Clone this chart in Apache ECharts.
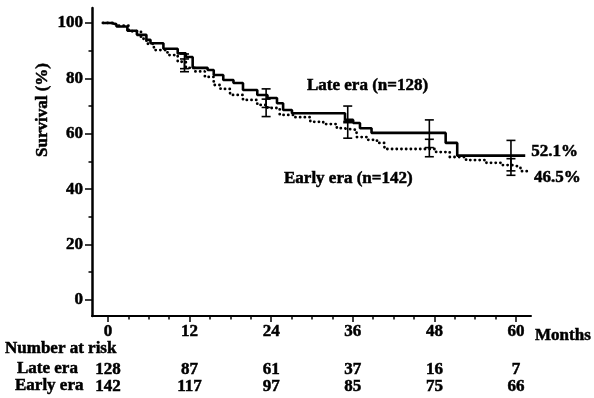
<!DOCTYPE html>
<html>
<head>
<meta charset="utf-8">
<script src="https://cdn.jsdelivr.net/npm/echarts@6/dist/echarts.min.js"></script>
<style>
  html, body { margin: 0; padding: 0; background: #fff; }
  #chart { width: 594px; height: 398px; }
</style>
</head>
<body>
<div id="chart"></div>
<script>
// Kaplan-Meier survival, late vs early era
const tickMonths = [0, 12, 24, 36, 48, 60];
const minorMonths = [3, 6, 9, 15, 18, 21, 27, 30, 33, 39, 42, 45, 51, 54, 57];
const yMajor = [0, 20, 40, 60, 80, 100];
const yMinor = [10, 30, 50, 70, 90];

const lateAtRisk = [128, 87, 61, 37, 16, 7];
const earlyAtRisk = [142, 117, 97, 85, 75, 66];

// Late era (n=128): event times (months) and survival (%)
const lateMonths = [0, 1.2, 2.0, 3.6, 5.0, 6.4, 7.0, 8.9, 11.0, 12.2, 13.2, 15.4, 16.3, 17.7, 19.2, 20.6, 22.7, 24.2, 25.6, 26.5, 27.8, 35.6, 36.8, 37.8, 39.5, 50.4, 52.1, 62.1];
const lateSurvival = [100, 99.5, 98.7, 97.2, 95.7, 93.9, 92.7, 90.7, 89.0, 87.7, 83.8, 83.0, 81.2, 79.4, 78.3, 75.8, 74.0, 72.9, 71.0, 68.6, 67.4, 65.0, 63.9, 62.0, 60.3, 56.7, 52.1, 52.1];

// Early era (n=142)
const earlyMonths = [0, 1.9, 3.8, 5.6, 6.4, 7.5, 9.5, 11.0, 12.2, 13.5, 15.0, 16.3, 17.3, 18.7, 20.6, 22.7, 24.2, 26.0, 28.0, 30.5, 32.4, 34.4, 35.3, 37.3, 38.8, 40.3, 41.4, 49.0, 51.0, 53.4, 56.4, 58.7, 60.2, 61.4, 62.5];
const earlySurvival = [100, 99.0, 97.0, 94.3, 92.5, 90.2, 88.4, 86.0, 83.8, 82.5, 80.5, 77.6, 76.2, 74.0, 72.2, 70.4, 69.3, 66.8, 66.0, 64.3, 63.5, 62.0, 61.4, 58.8, 57.8, 56.7, 54.5, 53.4, 51.6, 50.5, 49.5, 48.7, 48.0, 46.5, 46.5];

// Confidence bars at yearly marks
const errMonths = [12, 24, 36, 48, 60];
const lateLower = [83.5, 69.5, 64.5, 55.0, 46.6];
const lateUpper = [88.8, 76.2, 70.0, 65.0, 57.6];
const earlyLower = [82.4, 66.2, 58.4, 51.7, 45.0];
const earlyUpper = [87.0, 72.5, 64.0, 58.0, 51.0];

const FONT = 'Liberation Serif';
const txt = { fontFamily: FONT, fontWeight: 'bold', fontSize: 17, color: '#000',
  textBorderColor: '#000', textBorderWidth: 0.5 };
const FONT_CSS = 'bold 17px "Liberation Serif"';
const gText = (text, x, y, extra) => ({
  type: 'text', x, y, ...(extra || {}),
  style: { text, font: FONT_CSS, fill: '#000', stroke: '#000', lineWidth: 0.5,
    align: (extra && extra.rotation) ? 'center' : 'left', verticalAlign: 'middle' }
});

const zip = (a, b) => a.map((v, i) => [v, b[i]]);
const errData = (lo, hi) => errMonths.map((m, i) => [m, lo[i], hi[i]]);

function errorBar(params, api) {
  const x = api.value(0);
  const lo = api.coord([x, api.value(1)]);
  const hi = api.coord([x, api.value(2)]);
  const w = 4.5;
  const st = { stroke: '#000', lineWidth: 1.6 };
  return {
    type: 'group',
    children: [
      { type: 'line', shape: { x1: lo[0], y1: lo[1], x2: hi[0], y2: hi[1] }, style: st },
      { type: 'line', shape: { x1: lo[0] - w, y1: lo[1], x2: lo[0] + w, y2: lo[1] }, style: st },
      { type: 'line', shape: { x1: hi[0] - w, y1: hi[1], x2: hi[0] + w, y2: hi[1] }, style: st }
    ]
  };
}

const lastLate = lateSurvival[lateSurvival.length - 1];
const lastEarly = earlySurvival[earlySurvival.length - 1];

const chart = echarts.init(document.getElementById('chart'), null, { renderer: 'canvas' });

const yRange = { min: -5.8, max: 105.4 };
const xView = { min: -2.34, max: 62.2 };
const noZero = { onZero: false };

chart.setOption({
  animation: false,
  backgroundColor: '#fff',
  grid: { left: 92, right: 61, top: 8, bottom: 82, containLabel: false },
  xAxis: [
    { // curves are plotted on this one
      type: 'value', min: -1.6, max: 62.95, show: false,
      axisLine: { ...noZero }
    },
    { // month ticks and labels
      type: 'value', ...xView, position: 'bottom',
      name: 'Months', nameLocation: 'end', nameGap: 4,
      nameTextStyle: { ...txt, verticalAlign: 'top', padding: [11, 0, 0, 0] },
      axisLine: { show: true, ...noZero, lineStyle: { color: '#000', width: 2 } },
      axisTick: { show: true, length: 6, lineStyle: { color: '#000', width: 1.5 }, customValues: tickMonths },
      axisLabel: { ...txt, margin: 7, customValues: tickMonths },
      splitLine: { show: false }
    },
    { // minor month ticks
      type: 'value', ...xView, position: 'bottom',
      axisLine: { show: false, ...noZero },
      axisTick: { show: true, length: 3.5, lineStyle: { color: '#000', width: 1.5 }, customValues: minorMonths },
      axisLabel: { show: false },
      splitLine: { show: false }
    },
    { // numbers at risk, late era
      type: 'value', ...xView, position: 'bottom',
      axisLine: { show: false, ...noZero }, axisTick: { show: false },
      axisLabel: { ...txt, margin: 45, customValues: tickMonths,
        formatter: v => String(lateAtRisk[tickMonths.indexOf(v)]) },
      splitLine: { show: false }
    },
    { // numbers at risk, early era
      type: 'value', ...xView, position: 'bottom',
      axisLine: { show: false, ...noZero }, axisTick: { show: false },
      axisLabel: { ...txt, margin: 62, customValues: tickMonths,
        formatter: v => String(earlyAtRisk[tickMonths.indexOf(v)]) },
      splitLine: { show: false }
    }
  ],
  yAxis: [
    {
      type: 'value', ...yRange, position: 'left',
      axisLine: { show: true, ...noZero, lineStyle: { color: '#000', width: 2.5 } },
      axisTick: { show: true, length: 7, lineStyle: { color: '#000', width: 1.5 }, customValues: yMajor },
      axisLabel: { ...txt, margin: 9, customValues: yMajor },
      splitLine: { show: false }
    },
    {
      type: 'value', ...yRange, position: 'left',
      axisLine: { show: false, ...noZero },
      axisTick: { show: true, length: 3.5, lineStyle: { color: '#000', width: 1.5 }, customValues: yMinor },
      axisLabel: { show: false },
      splitLine: { show: false }
    }
  ],
  series: [
    {
      name: 'Late era', type: 'line', xAxisIndex: 0, yAxisIndex: 0,
      step: 'end', symbol: 'none',
      data: zip(lateMonths, lateSurvival),
      lineStyle: { color: '#000', width: 2.6 },
      endLabel: { show: true, ...txt, distance: 6, offset: [0, -4],
        formatter: () => lastLate.toFixed(1) + '%' },
      z: 3
    },
    {
      name: 'Early era', type: 'line', xAxisIndex: 0, yAxisIndex: 0,
      step: 'end', symbol: 'none',
      data: zip(earlyMonths, earlySurvival),
      lineStyle: { color: '#000', width: 2.8, type: [0.1, 4.6], cap: 'round' },
      endLabel: { show: true, ...txt, distance: 6, offset: [0, 6],
        formatter: () => lastEarly.toFixed(1) + '%' },
      z: 3
    },
    {
      type: 'custom', xAxisIndex: 0, yAxisIndex: 0,
      renderItem: errorBar, data: errData(lateLower, lateUpper), z: 4
    },
    {
      type: 'custom', xAxisIndex: 0, yAxisIndex: 0,
      renderItem: errorBar, data: errData(earlyLower, earlyUpper), z: 4
    }
  ],
  graphic: [
    gText('Survival (%)', 43, 110, { rotation: Math.PI / 2 }),
    gText('Late era (n=128)', 307, 86),
    gText('Early era (n=142)', 284, 179),
    gText('Number at risk', 5, 349),
    gText('Late era', 17, 369),
    gText('Early era', 15, 386)
  ]
});
</script>
</body>
</html>
